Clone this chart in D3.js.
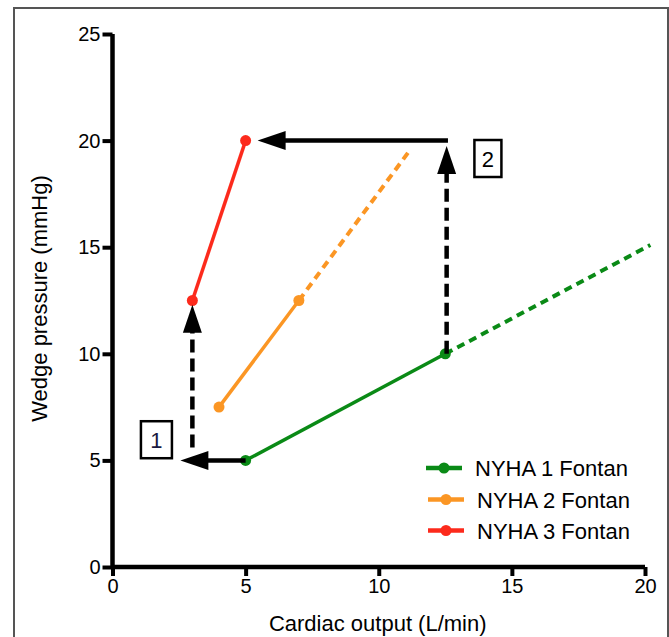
<!DOCTYPE html>
<html><head><meta charset="utf-8">
<script src="https://cdn.jsdelivr.net/npm/d3@7"></script>
<style>html,body{margin:0;padding:0;background:#fff;}svg{display:block;font-family:"Liberation Sans",Arial,sans-serif;}</style>
</head><body>
<svg id="c" width="669" height="637"></svg>
<script>
// ---- data ----
const seriesNames = ["NYHA 1 Fontan", "NYHA 2 Fontan", "NYHA 3 Fontan"];
const seriesColors = ["#0a8a16", "#fb9624", "#fc2a1c"];
const solidX = [[5, 12.5], [4, 7], [3, 5]];
const solidY = [[5, 10], [7.5, 12.5], [12.5, 20]];
const dashX = [[12.5, 20.2], [7, 11.2], []];
const dashY = [[10, 15.1], [12.5, 19.6], []];
const xTicks = [0, 5, 10, 15, 20];
const yTicks = [0, 5, 10, 15, 20, 25];
// arrows: from -> to, dashed flag
const arrowFromX = [5, 3, 12.6, 12.55];
const arrowFromY = [5, 5.6, 20, 10];
const arrowToX = [2.55, 3, 5.45, 12.55];
const arrowToY = [5, 12.3, 20, 19.75];
const arrowDashed = [false, true, false, true];
const boxLabels = ["1", "2"];
const boxX = [1.65, 14.1];
const boxY = [5.97, 19.16];

const svg = d3.select("#c");
const x = d3.scaleLinear().domain([0, 20]).range([112.5, 645]);
const y = d3.scaleLinear().domain([0, 25]).range([567, 34]);

// frame
svg.append("rect").attr("x", 14).attr("y", 8).attr("width", 654).attr("height", 640)
  .attr("fill", "none").attr("stroke", "#555").attr("stroke-width", 2);

// axes
const xAxis = svg.append("g").attr("transform", `translate(0,${y(0)})`)
  .call(d3.axisBottom(x).tickValues(xTicks).tickSize(9).tickPadding(3).tickFormat(d3.format("d")));
const yAxis = svg.append("g").attr("transform", `translate(${x(0)},0)`)
  .call(d3.axisLeft(y).tickValues(yTicks).tickSize(10).tickPadding(2).tickFormat(d3.format("d")));
[xAxis, yAxis].forEach(g => {
  g.select(".domain").attr("stroke", "#000").attr("stroke-width", 4.5);
  g.selectAll(".tick line").attr("stroke", "#000").attr("stroke-width", 4);
  g.selectAll(".tick text").attr("fill", "#000").style("font-size", "20px");
});
xAxis.select(".domain").attr("d", `M${x(0)},0H${x(20)}`);
yAxis.select(".domain").attr("d", `M0,${y(0) + 2}V${y(25)}`);

svg.append("text").attr("x", (x(0) + x(20)) / 2 - 1).attr("y", 631).attr("text-anchor", "middle")
  .style("font-size", "22px").text("Cardiac output (L/min)");
svg.append("text").attr("transform", `translate(47,${(y(0) + y(25)) / 2 - 2}) rotate(-90)`)
  .attr("text-anchor", "middle").style("font-size", "22px").text("Wedge pressure (mmHg)");

const line = d3.line().x(d => x(d[0])).y(d => y(d[1]));

// series
seriesNames.forEach((n, i) => {
  if (dashX[i].length) {
    svg.append("path").attr("d", line(dashX[i].map((v, j) => [v, dashY[i][j]])))
      .attr("stroke", seriesColors[i]).attr("stroke-width", 4).attr("fill", "none")
      .attr("stroke-dasharray", "8,5.5");
  }
  const pts = solidX[i].map((v, j) => [v, solidY[i][j]]);
  svg.append("path").attr("d", line(pts)).attr("stroke", seriesColors[i])
    .attr("stroke-width", 3.5).attr("fill", "none");
  svg.selectAll(null).data(pts).enter().append("circle")
    .attr("cx", d => x(d[0])).attr("cy", d => y(d[1])).attr("r", 5.5).attr("fill", seriesColors[i]);
});

// arrows
arrowFromX.forEach((fx, i) => {
  const x1 = x(fx), y1 = y(arrowFromY[i]), x2 = x(arrowToX[i]), y2 = y(arrowToY[i]);
  const L = 28, W = 9.5;
  const dx = x2 - x1, dy = y2 - y1, len = Math.hypot(dx, dy);
  const ux = dx / len, uy = dy / len;
  const bx = x2 - ux * L, by = y2 - uy * L;
  svg.append("line").attr("x1", x1).attr("y1", y1).attr("x2", bx + ux * 2).attr("y2", by + uy * 2)
    .attr("stroke", "#000").attr("stroke-width", 4.5)
    .attr("stroke-dasharray", arrowDashed[i] ? "13,6" : null);
  svg.append("path").attr("d", `M${x2},${y2}L${bx - uy * W},${by + ux * W}L${bx + uy * W},${by - ux * W}Z`)
    .attr("fill", "#000");
});

// label boxes
boxLabels.forEach((t, i) => {
  const cx = x(boxX[i]), cy = y(boxY[i]);
  const w = i === 0 ? 31 : 27, h = 37;
  svg.append("rect").attr("x", cx - w / 2).attr("y", cy - h / 2).attr("width", w).attr("height", h)
    .attr("fill", "#fff").attr("stroke", "#000").attr("stroke-width", 2.5);
  svg.append("text").attr("x", cx).attr("y", cy + 8).attr("text-anchor", "middle")
    .style("font-size", "22px").attr("fill", i === 0 ? "#1a1a40" : "#000").text(t);
});

// legend
const legY = [468, 499.5, 530.5];
const legX0 = [426, 428, 428];
seriesNames.forEach((n, i) => {
  const g = svg.append("g");
  g.append("line").attr("x1", legX0[i]).attr("x2", legX0[i] + 36).attr("y1", legY[i]).attr("y2", legY[i])
    .attr("stroke", seriesColors[i]).attr("stroke-width", 4.5);
  g.append("circle").attr("cx", legX0[i] + 18).attr("cy", legY[i]).attr("r", 5.5).attr("fill", seriesColors[i]);
  g.append("text").attr("x", legX0[i] + 49).attr("y", legY[i] + 8).style("font-size", "22px").text(n);
});
</script>
</body></html>
